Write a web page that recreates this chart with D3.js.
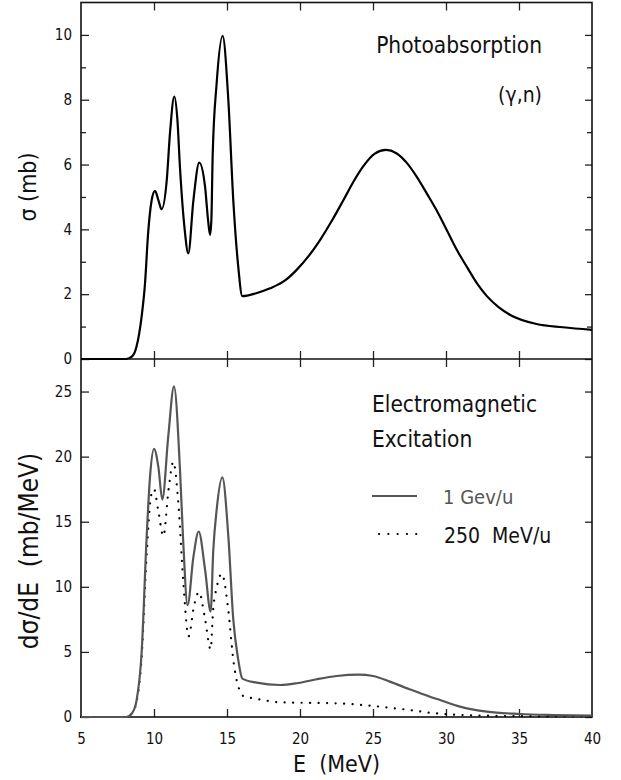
<html>
<head>
    <title>Photoabsorption and electromagnetic excitation</title>
    <style>
        body { margin: 0; background: white; }
        svg { display: block; }
        text { font-family: "Liberation Sans Narrow", "DejaVu Sans Condensed", "Roboto Condensed", sans-serif; fill: #111; white-space: pre; }
        .tick text { font-size: 15px; fill: #111; }
        .tick line { stroke: #222; stroke-width: 1.3; }
        .frame { fill: none; stroke: #111; stroke-width: 1.6; }
    </style>
    <script src="https://cdn.jsdelivr.net/npm/d3@7"></script>
</head>
<body>
<div id="chart"></div>
<script>
    // photoabsorption cross section (gamma,n), mb
    var photoE     = [5, 7.5, 8.1, 8.5, 8.8, 9.15, 9.38, 9.6, 9.84, 10.07, 10.3, 10.52, 10.87, 11.1, 11.39, 11.6, 11.78, 12.1, 12.35, 12.7, 13.1, 13.5, 13.7, 13.84, 13.93, 14.02, 14.29, 14.7, 15.09, 15.43, 15.77, 16.05, 17.0, 17.95, 19.0, 19.77, 20.6, 21.37, 22.2, 22.97, 23.7, 24.34, 25.1, 25.89, 26.6, 27.3, 28.0, 28.68, 29.4, 30.05, 30.7, 31.42, 32.1, 32.8, 33.6, 34.4, 36.2, 38.0, 40];
    var photoSigma = [0, 0, 0, 0.08, 0.38, 1.3, 2.3, 3.9, 4.9, 5.19, 4.9, 4.62, 5.5, 7.0, 8.1, 7.4, 5.9, 4.0, 3.26, 4.9, 6.06, 5.3, 4.3, 3.83, 4.3, 6.3, 8.5, 9.97, 8.0, 4.9, 2.85, 1.94, 2.03, 2.18, 2.43, 2.75, 3.18, 3.67, 4.28, 4.9, 5.5, 5.95, 6.33, 6.45, 6.35, 6.06, 5.62, 5.11, 4.55, 3.98, 3.4, 2.85, 2.35, 1.94, 1.6, 1.36, 1.08, 0.98, 0.9];

    // electromagnetic excitation, 1 GeV/u (mb/MeV)
    var gevE = [5, 8.1, 8.5, 8.81, 9.15, 9.5, 9.73, 10.0, 10.3, 10.57, 10.98, 11.37, 11.78, 12.0, 12.3, 12.7, 13.06, 13.5, 13.88, 14.06, 14.29, 14.68, 15.09, 15.43, 15.77, 16.05, 17.03, 18.63, 19.77, 21.14, 22.51, 23.99, 25.0, 26.16, 27.5, 28.2, 28.9, 29.6, 30.96, 32.8, 35.07, 37.3, 40];
    var gevV = [0, 0, 0.3, 1.3, 4.9, 13.9, 18.5, 20.6, 19.2, 16.7, 21.6, 25.4, 19.0, 13.5, 8.6, 12.3, 14.25, 11.3, 8.1, 12.8, 15.9, 18.4, 13.9, 7.5, 4.4, 2.95, 2.64, 2.46, 2.59, 2.9, 3.15, 3.26, 3.15, 2.72, 2.13, 1.85, 1.56, 1.3, 0.8, 0.41, 0.23, 0.15, 0.1];

    // electromagnetic excitation, 250 MeV/u (mb/MeV)
    var mevE = [5, 8.1, 8.5, 8.81, 9.15, 9.5, 9.8, 10.0, 10.3, 10.64, 11.0, 11.32, 11.67, 12.0, 12.37, 12.75, 13.08, 13.5, 13.88, 14.05, 14.3, 14.64, 15.09, 15.43, 15.9, 16.2, 16.8, 17.5, 18.6, 19.77, 22.5, 24.3, 25.9, 27.5, 28.9, 29.9, 32.8, 36, 40];
    var mevV = [0, 0, 0.3, 1.2, 4.5, 12.5, 17.0, 17.5, 15.8, 13.9, 17.5, 19.6, 16.4, 10.5, 6.2, 8.6, 9.6, 7.5, 5.2, 8.2, 10.0, 11.0, 8.2, 4.4, 1.95, 1.56, 1.44, 1.3, 1.13, 1.1, 1.05, 0.92, 0.74, 0.54, 0.33, 0.23, 0.1, 0.06, 0.05];

    var xTickMarks  = [10, 15, 20, 25, 30, 35];
    var xTickLabels = [5, 10, 15, 20, 25, 30, 35, 40];
    var topMajor = [0, 2, 4, 6, 8, 10];
    var topMinor = [1, 3, 5, 7, 9];
    var botMajor = [0, 5, 10, 15, 20, 25];

    var width = 621, height = 780;
    var padL = 81, padR = 592, padT = 2.5, padMid = 359, padB = 717;

    var svg = d3.select('#chart')
            .append('svg')
            .attr('width', width)
            .attr('height', height);

    var x = d3.scaleLinear().domain([5, 40]).range([padL, padR]);
    var yTop = d3.scaleLinear().domain([0, 11]).range([padMid, padT]);
    var yBot = d3.scaleLinear().domain([0, 27.5]).range([padB, padMid]);

    function addAxis(axis, tx, ty, labels) {
        var g = svg.append('g')
                .attr('transform', 'translate(' + tx + ',' + ty + ')')
                .call(axis);
        g.select('.domain').remove();
        if (!labels) g.selectAll('.tick text').remove();
        return g;
    }

    // top panel ticks
    addAxis(d3.axisLeft(yTop).tickValues(topMajor).tickSize(-8).tickPadding(9), padL, 0, true);
    addAxis(d3.axisLeft(yTop).tickValues(topMinor).tickSize(-5), padL, 0, false);
    addAxis(d3.axisRight(yTop).tickValues(topMajor).tickSize(-7), padR, 0, false);
    addAxis(d3.axisRight(yTop).tickValues(topMinor).tickSize(-5), padR, 0, false);
    addAxis(d3.axisTop(x).tickValues(xTickMarks).tickSize(-8), 0, padT, false);
    addAxis(d3.axisBottom(x).tickValues(xTickMarks).tickSize(-8), 0, padMid, false);

    // bottom panel ticks
    addAxis(d3.axisLeft(yBot).tickValues(botMajor).tickSize(-8).tickPadding(9), padL, 0, true);
    addAxis(d3.axisRight(yBot).tickValues(botMajor).tickSize(-7), padR, 0, false);
    addAxis(d3.axisTop(x).tickValues(xTickMarks).tickSize(-8), 0, padMid, false);
    addAxis(d3.axisBottom(x).tickValues(xTickMarks).tickSize(-8), 0, padB, false);
    addAxis(d3.axisBottom(x).tickValues(xTickLabels).tickSize(0).tickPadding(16)
            .tickFormat(d3.format('d')), 0, padB, true);

    // frames
    svg.append('rect').attr('class', 'frame')
            .attr('x', padL).attr('y', padT)
            .attr('width', padR - padL).attr('height', padB - padT);
    svg.append('line').attr('class', 'frame')
            .attr('x1', padL).attr('x2', padR)
            .attr('y1', padMid).attr('y2', padMid);

    // curves
    var lineTop = d3.line()
            .x(function(d) { return x(d[0]); })
            .y(function(d) { return yTop(d[1]); })
            .curve(d3.curveMonotoneX);
    var lineBot = d3.line()
            .x(function(d) { return x(d[0]); })
            .y(function(d) { return yBot(d[1]); })
            .curve(d3.curveMonotoneX);

    svg.append('path')
            .datum(d3.zip(photoE, photoSigma))
            .attr('d', lineTop)
            .attr('fill', 'none')
            .attr('stroke', '#000')
            .attr('stroke-width', 2.2);

    svg.append('path')
            .datum(d3.zip(mevE, mevV))
            .attr('d', lineBot)
            .attr('fill', 'none')
            .attr('stroke', '#000')
            .attr('stroke-width', 2.2)
            .attr('stroke-linecap', 'round')
            .attr('stroke-dasharray', '0.1 8.4');

    svg.append('path')
            .datum(d3.zip(gevE, gevV))
            .attr('d', lineBot)
            .attr('fill', 'none')
            .attr('stroke', '#555')
            .attr('stroke-width', 2.2);

    // axis titles
    svg.append('text')
            .attr('transform', 'translate(36,187) rotate(-90)')
            .attr('text-anchor', 'middle')
            .style('font-size', '23px')
            .text('σ (mb)');
    svg.append('text')
            .attr('transform', 'translate(38,551) rotate(-90)')
            .attr('text-anchor', 'middle')
            .style('font-size', '26px')
            .text('dσ/dE  (mb/MeV)');
    svg.append('text')
            .attr('x', (padL + padR) / 2)
            .attr('y', 772)
            .attr('text-anchor', 'middle')
            .style('font-size', '23px')
            .text('E  (MeV)');

    // annotations
    svg.append('text')
            .attr('x', 542).attr('y', 53)
            .attr('text-anchor', 'end')
            .style('font-size', '22.5px')
            .text('Photoabsorption');
    svg.append('text')
            .attr('x', 542).attr('y', 102)
            .attr('text-anchor', 'end')
            .style('font-size', '21px')
            .text('(γ,n)');
    svg.append('text')
            .attr('x', 372).attr('y', 412)
            .style('font-size', '22.5px')
            .text('Electromagnetic');
    svg.append('text')
            .attr('x', 372).attr('y', 447)
            .style('font-size', '22.5px')
            .text('Excitation');

    // legend
    svg.append('line')
            .attr('x1', 372).attr('x2', 417)
            .attr('y1', 496).attr('y2', 496)
            .attr('stroke', '#555').attr('stroke-width', 2);
    svg.append('text')
            .attr('x', 443).attr('y', 504)
            .style('font-size', '20px')
            .style('fill', '#555')
            .text('1 Gev/u');
    svg.append('line')
            .attr('x1', 379).attr('x2', 417)
            .attr('y1', 534).attr('y2', 534)
            .attr('stroke', '#000').attr('stroke-width', 2.2)
            .attr('stroke-linecap', 'round')
            .attr('stroke-dasharray', '0.1 9.2');
    svg.append('text')
            .attr('x', 444).attr('y', 543)
            .style('font-size', '21px')
            .text('250  MeV/u');
</script>
</body>
</html>
